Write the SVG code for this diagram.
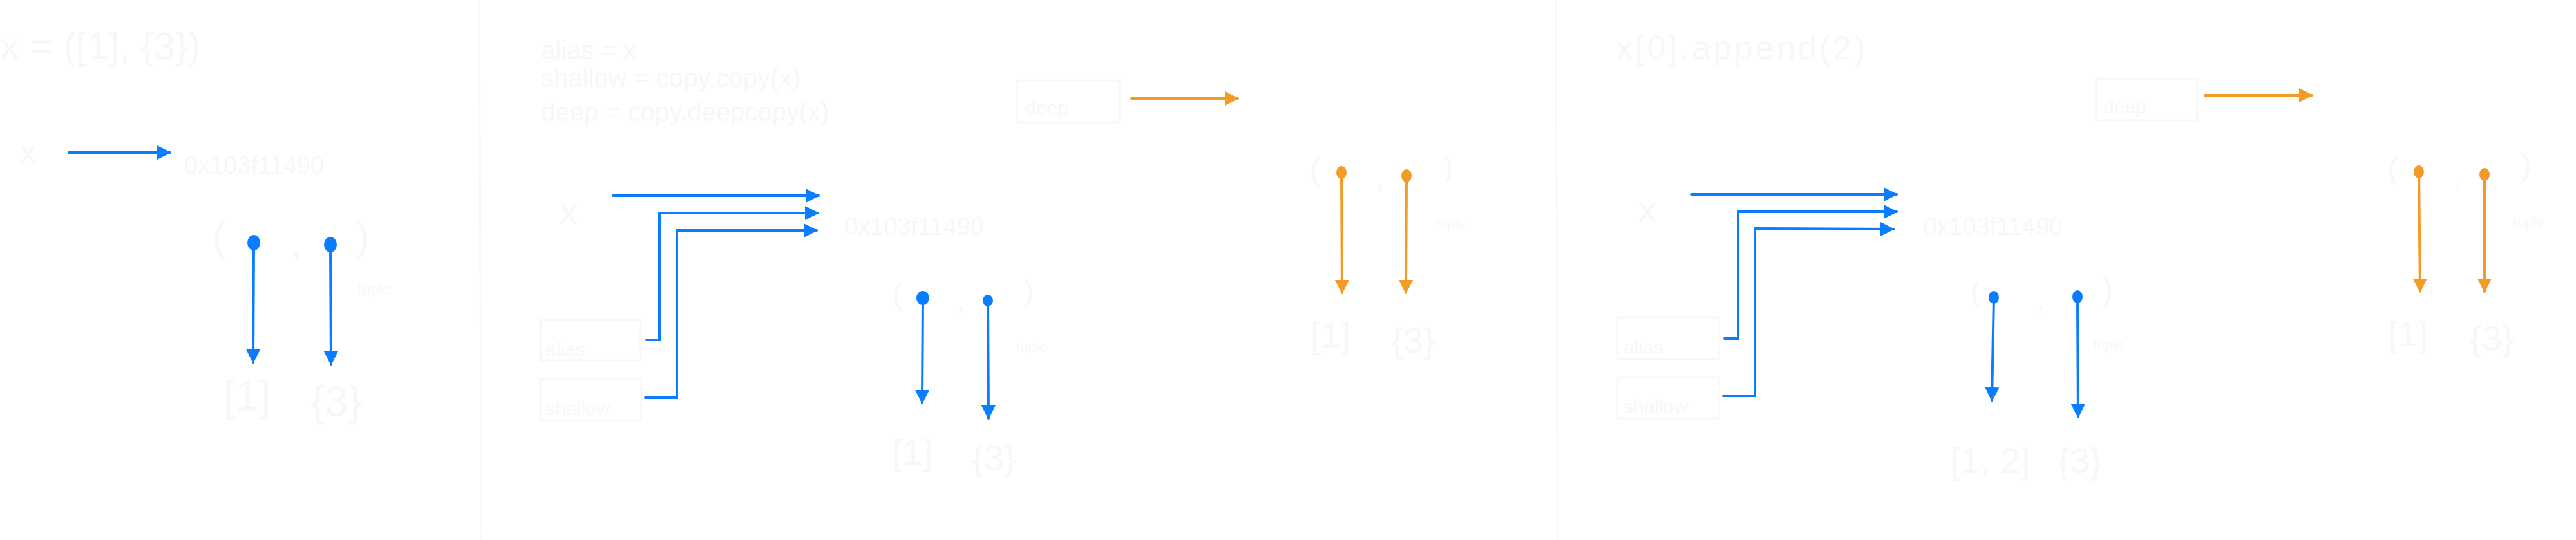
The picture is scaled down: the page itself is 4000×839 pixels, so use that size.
<svg xmlns="http://www.w3.org/2000/svg" width="4000" height="839" viewBox="0 0 4000 839">
<style>
  text { font-family: "Liberation Sans", "DejaVu Sans", sans-serif; fill: #f7f7f7; }
  .box { fill: none; stroke: #f7f7f7; stroke-width: 3; }
  .div { stroke: #f8f8f8; stroke-width: 3; fill: none; }
  .b { stroke: #0a7cff; stroke-width: 4; fill: none; stroke-linecap: round; stroke-linejoin: miter; }
  .o { stroke: #f59a23; stroke-width: 4; fill: none; stroke-linecap: round; }
  .bd { fill: #0a7cff; }
  .od { fill: #f59a23; }
</style>
<defs>
  <marker id="ab" viewBox="0 0 22 22" markerWidth="22" markerHeight="22" refX="20" refY="11" orient="auto" markerUnits="userSpaceOnUse">
    <path d="M0,0 L22,11 L0,22 z" fill="#0a7cff"/>
  </marker>
  <marker id="ao" viewBox="0 0 22 22" markerWidth="22" markerHeight="22" refX="20" refY="11" orient="auto" markerUnits="userSpaceOnUse">
    <path d="M0,0 L22,11 L0,22 z" fill="#f59a23"/>
  </marker>
</defs>
<rect width="4000" height="839" fill="#ffffff"/>

<g id="dividers">
  <line class="div" x1="744" y1="0" x2="748" y2="839"/>
  <line class="div" x1="2416" y1="0" x2="2419" y2="839"/>
</g>

<!-- Panel 1 -->
<g id="p1-title"><text x="0" y="92" font-size="60">x = ([1], {3})</text></g>
<g id="p1-x"><text x="29" y="255" font-size="58">x</text></g>
<g id="p1-addr"><text x="286" y="270" font-size="38">0x103f11490</text></g>
<g id="p1-tuple">
  <text x="330" y="390" font-size="64">(</text>
  <text x="451" y="398" font-size="64">,</text>
  <text x="552" y="390" font-size="64">)</text>
  <text x="555" y="457" font-size="24">tuple</text>
</g>
<g id="p1-list"><text x="347" y="638" font-size="66">[1]</text></g>
<g id="p1-set"><text x="482" y="646" font-size="66">{3}</text></g>

<!-- Panel 2 -->
<g id="p2-code">
  <text x="840" y="92" font-size="40">alias = x</text>
  <text x="840" y="135" font-size="40">shallow = copy.copy(x)</text>
  <text x="840" y="188" font-size="40">deep = copy.deepcopy(x)</text>
</g>
<g id="p2-x"><text x="869" y="348" font-size="56">x</text></g>
<g id="p2-addr"><text x="1311" y="365" font-size="38">0x103f11490</text></g>
<g id="p2-alias"><rect class="box" x="839" y="497" width="156" height="63"/><text x="847" y="553" font-size="30">alias</text></g>
<g id="p2-shallow"><rect class="box" x="839" y="589" width="157" height="64"/><text x="847" y="645" font-size="30">shallow</text></g>
<g id="p2-tuple">
  <text x="1386" y="473" font-size="46">(</text>
  <text x="1486" y="482" font-size="46">,</text>
  <text x="1590" y="468" font-size="46">)</text>
  <text x="1578" y="547" font-size="22">tuple</text>
</g>
<g id="p2-list"><text x="1386" y="722" font-size="56">[1]</text></g>
<g id="p2-set"><text x="1509" y="731" font-size="56">{3}</text></g>
<g id="p2-deep"><rect class="box" x="1580" y="125" width="158" height="65"/><text x="1592" y="178" font-size="30">deep</text></g>
<g id="p2-dtuple">
  <text x="2034" y="280" font-size="46">(</text>
  <text x="2137" y="292" font-size="46">,</text>
  <text x="2241" y="275" font-size="46">)</text>
  <text x="2229" y="355" font-size="22">tuple</text>
</g>
<g id="p2-dlist"><text x="2035" y="540" font-size="56">[1]</text></g>
<g id="p2-dset"><text x="2160" y="548" font-size="56">{3}</text></g>

<!-- Panel 3 -->
<g id="p3-code"><text x="2509" y="92" font-size="52" letter-spacing="4">x[0].append(2)</text></g>
<g id="p3-x"><text x="2544" y="345" font-size="56">x</text></g>
<g id="p3-addr"><text x="2986" y="365" font-size="38">0x103f11490</text></g>
<g id="p3-alias"><rect class="box" x="2512" y="493" width="157" height="65"/><text x="2521" y="550" font-size="30">alias</text></g>
<g id="p3-shallow"><rect class="box" x="2512" y="586" width="157" height="64"/><text x="2521" y="642" font-size="30">shallow</text></g>
<g id="p3-tuple">
  <text x="3060" y="470" font-size="46">(</text>
  <text x="3163" y="480" font-size="46">,</text>
  <text x="3265" y="466" font-size="46">)</text>
  <text x="3250" y="543" font-size="22">tuple</text>
</g>
<g id="p3-list"><text x="3028" y="735" font-size="56">[1, 2]</text></g>
<g id="p3-set"><text x="3195" y="735" font-size="56">{3}</text></g>
<g id="p3-deep"><rect class="box" x="3255" y="122" width="157" height="65"/><text x="3266" y="176" font-size="30">deep</text></g>
<g id="p3-dtuple">
  <text x="3708" y="278" font-size="46">(</text>
  <text x="3810" y="290" font-size="46">,</text>
  <text x="3915" y="272" font-size="46">)</text>
  <text x="3903" y="352" font-size="22">tuple</text>
</g>
<g id="p3-dlist"><text x="3708" y="538" font-size="56">[1]</text></g>
<g id="p3-dset"><text x="3835" y="545" font-size="56">{3}</text></g>

<g id="connectors">
  <!-- panel 1 -->
  <line class="b" x1="107" y1="237" x2="264" y2="237" marker-end="url(#ab)"/>
  <ellipse class="bd" cx="394" cy="377" rx="10" ry="12"/>
  <line class="b" x1="394" y1="377" x2="393" y2="563" marker-end="url(#ab)"/>
  <ellipse class="bd" cx="513" cy="380" rx="10" ry="12"/>
  <line class="b" x1="513" y1="380" x2="514" y2="566" marker-end="url(#ab)"/>
  <!-- panel 2 -->
  <line class="b" x1="952" y1="304" x2="1271" y2="304" marker-end="url(#ab)"/>
  <polyline class="b" points="1004,528 1024,528 1024,331 1270,331" marker-end="url(#ab)"/>
  <polyline class="b" points="1002,618 1051,618 1051,358 1268,358" marker-end="url(#ab)"/>
  <ellipse class="bd" cx="1433" cy="463" rx="10" ry="11"/>
  <line class="b" x1="1433" y1="463" x2="1432" y2="626" marker-end="url(#ab)"/>
  <ellipse class="bd" cx="1534" cy="467" rx="8" ry="9"/>
  <line class="b" x1="1534" y1="467" x2="1535" y2="650" marker-end="url(#ab)"/>
  <line class="o" x1="1757" y1="153" x2="1922" y2="153" marker-end="url(#ao)"/>
  <ellipse class="od" cx="2083" cy="268" rx="8" ry="10"/>
  <line class="o" x1="2083" y1="268" x2="2084" y2="455" marker-end="url(#ao)"/>
  <ellipse class="od" cx="2184" cy="273" rx="8" ry="10"/>
  <line class="o" x1="2184" y1="273" x2="2183" y2="455" marker-end="url(#ao)"/>
  <!-- panel 3 -->
  <line class="b" x1="2627" y1="302" x2="2945" y2="302" marker-end="url(#ab)"/>
  <polyline class="b" points="2678,526 2699,526 2699,329 2945,329" marker-end="url(#ab)"/>
  <polyline class="b" points="2676,615 2725,615 2725,355 2940,356" marker-end="url(#ab)"/>
  <ellipse class="bd" cx="3096" cy="462" rx="8" ry="10"/>
  <line class="b" x1="3096" y1="462" x2="3093" y2="622" marker-end="url(#ab)"/>
  <ellipse class="bd" cx="3226" cy="461" rx="8" ry="10"/>
  <line class="b" x1="3226" y1="461" x2="3227" y2="648" marker-end="url(#ab)"/>
  <line class="o" x1="3424" y1="148" x2="3590" y2="148" marker-end="url(#ao)"/>
  <ellipse class="od" cx="3756" cy="267" rx="8" ry="10"/>
  <line class="o" x1="3756" y1="267" x2="3758" y2="453" marker-end="url(#ao)"/>
  <ellipse class="od" cx="3858" cy="271" rx="8" ry="10"/>
  <line class="o" x1="3858" y1="271" x2="3858" y2="453" marker-end="url(#ao)"/>
</g>
</svg>
